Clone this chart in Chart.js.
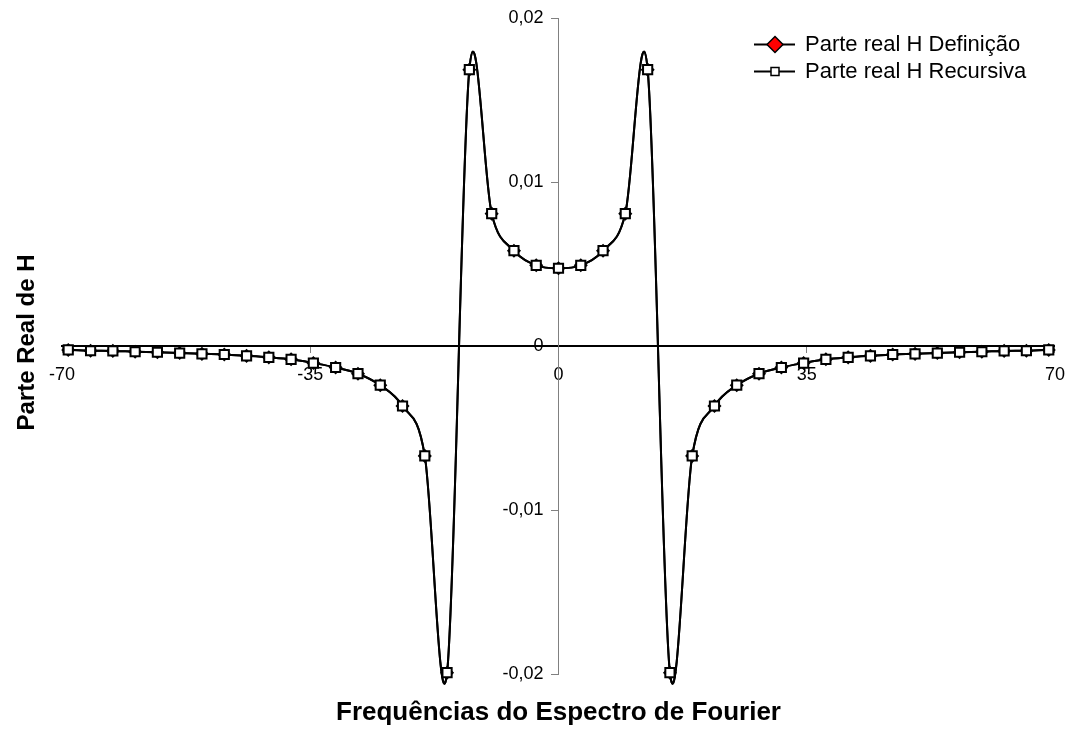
<!DOCTYPE html>
<html>
<head>
<meta charset="utf-8">
<script src="https://cdn.jsdelivr.net/npm/chart.js@4.4.0/dist/chart.umd.min.js"></script>
<style>
  body { margin: 0; background: #fff; }
  #wrap { width: 1077px; height: 731px; }
</style>
</head>
<body>
<div id="wrap"><canvas id="chart" width="1077" height="731"></canvas></div>
<script>
// frequencias (multiplos de pi)
const frequencias = [
  -69.12, -65.97, -62.83, -59.69, -56.55, -53.41, -50.27, -47.12, -43.98, -40.84, -37.70,
  -34.56, -31.42, -28.27, -25.13, -21.99, -18.85, -15.71, -12.57, -9.42, -6.28, -3.14,
  0,
  3.14, 6.28, 9.42, 12.57, 15.71, 18.85, 21.99, 25.13, 28.27, 31.42, 34.56,
  37.70, 40.84, 43.98, 47.12, 50.27, 53.41, 56.55, 59.69, 62.83, 65.97, 69.12
];
const parteRealDefinicao = [
  -0.00024, -0.00029, -0.00030, -0.00035, -0.00038, -0.00043, -0.00048, -0.00052, -0.00060, -0.00069, -0.00081,
  -0.00104, -0.00131, -0.00169, -0.00239, -0.00366, -0.00670, -0.01992, 0.01685, 0.00807, 0.00581, 0.00492,
  0.00474,
  0.00492, 0.00581, 0.00807, 0.01685, -0.01992, -0.00670, -0.00366, -0.00239, -0.00169, -0.00131, -0.00104,
  -0.00081, -0.00069, -0.00060, -0.00052, -0.00048, -0.00043, -0.00038, -0.00035, -0.00030, -0.00029, -0.00024
];
const parteRealRecursiva = [
  -0.00024, -0.00029, -0.00030, -0.00035, -0.00038, -0.00043, -0.00048, -0.00052, -0.00060, -0.00069, -0.00081,
  -0.00104, -0.00131, -0.00169, -0.00239, -0.00366, -0.00670, -0.01992, 0.01685, 0.00807, 0.00581, 0.00492,
  0.00474,
  0.00492, 0.00581, 0.00807, 0.01685, -0.01992, -0.00670, -0.00366, -0.00239, -0.00169, -0.00131, -0.00104,
  -0.00081, -0.00069, -0.00060, -0.00052, -0.00048, -0.00043, -0.00038, -0.00035, -0.00030, -0.00029, -0.00024
];
const xTicks = [-70, -35, 0, 35, 70];
const yTicks = [-0.02, -0.01, 0, 0.01, 0.02];
const seriesNames = ['Parte real H Definição', 'Parte real H Recursiva'];
const xTitle = 'Frequências do Espectro de Fourier';
const yTitle = 'Parte Real de H';

const FONT = 'Arial, "Liberation Sans", sans-serif';

function toPoints(ys) {
  return frequencias.map((f, i) => ({ x: f, y: ys[i] }));
}
function fmt(v) {
  if (Math.abs(v) < 1e-12) return '0';
  return String(v).replace('.', ',');
}

// suavizacao estilo Excel (Catmull-Rom 1/6) sobre os pontos ja posicionados pelas escalas
const excelSmooth = {
  id: 'excelSmooth',
  beforeDatasetDraw(chart, args) {
    const line = args.meta.dataset;
    const pts = args.meta.data;
    line.updateControlPoints(chart.chartArea, 'x');
    for (let i = 0; i < pts.length; i++) {
      const p = pts[i];
      const prev = pts[Math.max(i - 1, 0)];
      const next = pts[Math.min(i + 1, pts.length - 1)];
      const dx = (next.x - prev.x) / 6, dy = (next.y - prev.y) / 6;
      p.cp1x = p.x - dx; p.cp1y = p.y - dy;
      p.cp2x = p.x + dx; p.cp2y = p.y + dy;
    }
  }
};

// titulos dos eixos e legenda
const extras = {
  id: 'extras',
  afterDraw(chart) {
    const ctx = chart.ctx;
    const area = chart.chartArea;
    ctx.save();
    ctx.fillStyle = '#000';
    ctx.font = 'bold 26px ' + FONT;
    ctx.textAlign = 'center';
    ctx.textBaseline = 'alphabetic';
    ctx.fillText(xTitle, (area.left + area.right) / 2, 720);
    ctx.save();
    ctx.font = 'bold 24px ' + FONT;
    ctx.translate(34, 342.5);
    ctx.rotate(-Math.PI / 2);
    ctx.fillText(yTitle, 0, 0);
    ctx.restore();

    // legenda
    const rows = [44.5, 71.5];
    ctx.lineWidth = 2;
    ctx.strokeStyle = '#000';
    rows.forEach(y => {
      ctx.beginPath();
      ctx.moveTo(754, y);
      ctx.lineTo(795, y);
      ctx.stroke();
    });
    ctx.lineWidth = 1.5;
    ctx.beginPath();
    ctx.moveTo(775, rows[0] - 8);
    ctx.lineTo(783, rows[0]);
    ctx.lineTo(775, rows[0] + 8);
    ctx.lineTo(767, rows[0]);
    ctx.closePath();
    ctx.fillStyle = '#ff0000';
    ctx.fill();
    ctx.stroke();
    ctx.beginPath();
    ctx.rect(771, rows[1] - 4, 8, 8);
    ctx.fillStyle = '#fff';
    ctx.fill();
    ctx.stroke();

    ctx.fillStyle = '#000';
    ctx.font = '22px ' + FONT;
    ctx.textAlign = 'left';
    ctx.fillText(seriesNames[0], 805, 51);
    ctx.fillText(seriesNames[1], 805, 78);
    ctx.restore();
  }
};

new Chart(document.getElementById('chart'), {
  type: 'line',
  data: {
    datasets: [
      {
        label: seriesNames[1],
        data: toPoints(parteRealRecursiva),
        borderColor: '#000',
        borderWidth: 2,
        tension: 0.4,
        pointStyle: 'rect',
        pointRadius: 6.5,
        pointBorderWidth: 2,
        pointBackgroundColor: '#fff',
        pointBorderColor: '#000',
        clip: false
      },
      {
        label: seriesNames[0],
        data: toPoints(parteRealDefinicao),
        borderColor: '#000',
        borderWidth: 2,
        tension: 0.4,
        pointStyle: 'rectRot',
        pointRadius: 6,
        pointBorderWidth: 1.5,
        pointBackgroundColor: '#ff0000',
        pointBorderColor: '#000',
        clip: false
      }
    ]
  },
  options: {
    responsive: false,
    animation: false,
    layout: { padding: { left: 62, right: 15, top: 18, bottom: 57 } },
    plugins: {
      legend: { display: false },
      tooltip: { enabled: false }
    },
    scales: {
      x: {
        type: 'linear',
        min: -70,
        max: 70,
        position: { y: 0 },
        afterBuildTicks: axis => { axis.ticks = xTicks.map(v => ({ value: v })); },
        ticks: {
          font: { family: FONT, size: 18 },
          color: '#000',
          padding: 12,
          maxRotation: 0,
          autoSkip: false,
          callback: v => fmt(v)
        },
        grid: { drawOnChartArea: false, drawTicks: true, tickLength: 6, color: '#808080' },
        border: { color: '#000', width: 2 }
      },
      y: {
        type: 'linear',
        min: -0.02,
        max: 0.02,
        position: { x: 0 },
        afterBuildTicks: axis => { axis.ticks = yTicks.map(v => ({ value: v })); },
        ticks: {
          font: { family: FONT, size: 18 },
          color: '#000',
          autoSkip: false,
          // eixo centrado: o Chart.js ignora o padding, por isso os espacos finais
          callback: v => fmt(v) + '   '
        },
        grid: { drawOnChartArea: false, drawTicks: true, tickLength: 7, color: '#808080' },
        border: { color: '#808080', width: 1 }
      }
    }
  },
  plugins: [excelSmooth, extras]
});
</script>
</body>
</html>
